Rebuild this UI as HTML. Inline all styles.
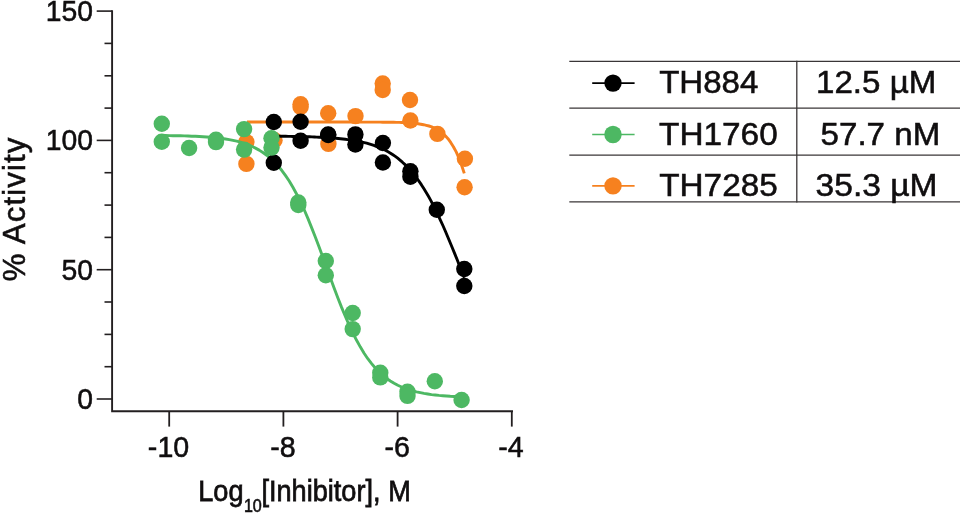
<!DOCTYPE html>
<html><head><meta charset="utf-8"><title>Dose response</title>
<style>
html,body{margin:0;padding:0;background:#fff;}
body{width:960px;height:513px;overflow:hidden;font-family:"Liberation Sans",sans-serif;}
svg{display:block;will-change:transform;}
</style></head><body>
<svg width="960" height="513" viewBox="0 0 960 513">
<rect width="960" height="513" fill="#ffffff"/>
<g stroke="#231f20" fill="none" stroke-linecap="butt">
<path d="M112.1 10.3 V411.2 H513" stroke-width="1.9"/>
<path d="M96.7 399.0 H112.1" stroke-width="1.6"/>
<path d="M96.7 269.7 H112.1" stroke-width="1.6"/>
<path d="M96.7 140.4 H112.1" stroke-width="1.6"/>
<path d="M96.7 11.1 H112.1" stroke-width="1.6"/>
<path d="M104.5 366.7 H112.1" stroke-width="1.6"/>
<path d="M104.5 334.4 H112.1" stroke-width="1.6"/>
<path d="M104.5 302.0 H112.1" stroke-width="1.6"/>
<path d="M104.5 237.4 H112.1" stroke-width="1.6"/>
<path d="M104.5 205.1 H112.1" stroke-width="1.6"/>
<path d="M104.5 172.7 H112.1" stroke-width="1.6"/>
<path d="M104.5 108.1 H112.1" stroke-width="1.6"/>
<path d="M104.5 75.8 H112.1" stroke-width="1.6"/>
<path d="M104.5 43.4 H112.1" stroke-width="1.6"/>
<path d="M169.2 411.2 V426.6" stroke-width="1.8"/>
<path d="M283.4 411.2 V426.6" stroke-width="1.8"/>
<path d="M397.6 411.2 V426.6" stroke-width="1.8"/>
<path d="M511.8 411.2 V426.6" stroke-width="1.8"/>
</g>
<g fill="none" stroke-width="2.9" stroke-linecap="butt" stroke-linejoin="round">
<path d="M247.0 122.0 L249.7 122.0 L252.4 122.0 L255.1 122.0 L257.9 122.0 L260.6 122.0 L263.3 122.0 L266.0 122.0 L268.7 122.0 L271.4 122.0 L274.2 122.0 L276.9 122.0 L279.6 122.0 L282.3 122.0 L285.0 122.0 L287.7 122.0 L290.5 122.0 L293.2 122.0 L295.9 122.0 L298.6 122.0 L301.3 122.0 L304.0 122.0 L306.8 122.0 L309.5 122.0 L312.2 122.0 L314.9 122.0 L317.6 122.0 L320.3 122.0 L323.1 122.0 L325.8 122.0 L328.5 122.0 L331.2 122.0 L333.9 122.0 L336.6 122.0 L339.4 122.0 L342.1 122.0 L344.8 122.0 L347.5 122.0 L350.2 122.0 L352.9 122.1 L355.6 122.1 L358.4 122.1 L361.1 122.1 L363.8 122.1 L366.5 122.1 L369.2 122.1 L371.9 122.1 L374.7 122.1 L377.4 122.1 L380.1 122.1 L382.8 122.2 L385.5 122.2 L388.2 122.2 L391.0 122.2 L393.7 122.3 L396.4 122.4 L399.1 122.4 L401.8 122.5 L404.5 122.6 L407.3 122.8 L410.0 123.0 L412.7 123.2 L415.4 123.4 L418.1 123.8 L420.8 124.2 L423.6 124.7 L426.3 125.3 L429.0 126.0 L431.7 126.9 L434.4 128.1 L437.1 129.5 L439.9 131.1 L442.6 133.2 L445.3 135.7 L448.0 138.7 L450.7 142.4 L453.4 146.7 L456.2 151.9 L458.9 158.0 L461.6 165.2 L464.3 173.4" stroke="#f6811f"/>
</g>
<circle cx="246.4" cy="142.1" r="8.2" fill="#f6811f"/>
<circle cx="246.4" cy="163.9" r="8.2" fill="#f6811f"/>
<circle cx="274.5" cy="140.3" r="8.2" fill="#f6811f"/>
<circle cx="300.6" cy="104.3" r="8.2" fill="#f6811f"/>
<circle cx="300.6" cy="107.0" r="8.2" fill="#f6811f"/>
<circle cx="328.2" cy="113.3" r="8.2" fill="#f6811f"/>
<circle cx="328.4" cy="143.9" r="8.2" fill="#f6811f"/>
<circle cx="355.5" cy="116.1" r="8.2" fill="#f6811f"/>
<circle cx="382.7" cy="83.5" r="8.2" fill="#f6811f"/>
<circle cx="382.7" cy="90.0" r="8.2" fill="#f6811f"/>
<circle cx="410.0" cy="100.0" r="8.2" fill="#f6811f"/>
<circle cx="410.4" cy="120.5" r="8.2" fill="#f6811f"/>
<circle cx="437.4" cy="133.9" r="8.2" fill="#f6811f"/>
<circle cx="464.9" cy="158.8" r="8.2" fill="#f6811f"/>
<circle cx="464.6" cy="187.2" r="8.2" fill="#f6811f"/>
<g fill="none" stroke-width="2.9" stroke-linecap="butt" stroke-linejoin="round">
<path d="M273.9 136.2 L276.3 136.2 L278.7 136.3 L281.0 136.3 L283.4 136.3 L285.8 136.3 L288.2 136.4 L290.6 136.4 L292.9 136.5 L295.3 136.5 L297.7 136.5 L300.1 136.6 L302.5 136.6 L304.8 136.7 L307.2 136.8 L309.6 136.8 L312.0 136.9 L314.4 137.0 L316.7 137.1 L319.1 137.2 L321.5 137.3 L323.9 137.5 L326.3 137.6 L328.6 137.7 L331.0 137.9 L333.4 138.1 L335.8 138.3 L338.2 138.5 L340.5 138.7 L342.9 139.0 L345.3 139.3 L347.7 139.6 L350.1 139.9 L352.4 140.3 L354.8 140.7 L357.2 141.1 L359.6 141.6 L362.0 142.1 L364.3 142.6 L366.7 143.2 L369.1 143.9 L371.5 144.6 L373.9 145.4 L376.2 146.3 L378.6 147.2 L381.0 148.2 L383.4 149.3 L385.8 150.5 L388.1 151.8 L390.5 153.2 L392.9 154.8 L395.3 156.4 L397.7 158.2 L400.0 160.1 L402.4 162.2 L404.8 164.4 L407.2 166.8 L409.6 169.3 L411.9 172.0 L414.3 174.9 L416.7 178.1 L419.1 181.4 L421.5 184.9 L423.8 188.6 L426.2 192.5 L428.6 196.6 L431.0 200.9 L433.4 205.5 L435.7 210.2 L438.1 215.1 L440.5 220.3 L442.9 225.5 L445.3 231.0 L447.6 236.5 L450.0 242.2 L452.4 248.0 L454.8 253.9 L457.2 259.8 L459.5 265.8 L461.9 271.7 L464.3 277.7" stroke="#000000"/>
<path d="M161.8 135.5 L165.5 135.5 L169.3 135.6 L173.0 135.7 L176.8 135.7 L180.5 135.8 L184.3 135.9 L188.0 136.0 L191.8 136.2 L195.5 136.3 L199.3 136.5 L203.0 136.7 L206.8 137.0 L210.5 137.3 L214.2 137.6 L218.0 138.0 L221.7 138.5 L225.5 139.0 L229.2 139.6 L233.0 140.4 L236.7 141.2 L240.5 142.2 L244.2 143.4 L248.0 144.7 L251.7 146.3 L255.5 148.1 L259.2 150.1 L262.9 152.5 L266.7 155.2 L270.4 158.3 L274.2 161.8 L277.9 165.8 L281.7 170.3 L285.4 175.4 L289.2 181.0 L292.9 187.3 L296.7 194.2 L300.4 201.6 L304.2 209.7 L307.9 218.4 L311.6 227.6 L315.4 237.2 L319.1 247.1 L322.9 257.3 L326.6 267.6 L330.4 277.9 L334.1 288.0 L337.9 297.9 L341.6 307.4 L345.4 316.5 L349.1 325.0 L352.9 333.0 L356.6 340.3 L360.4 347.1 L364.1 353.2 L367.8 358.7 L371.6 363.6 L375.3 368.0 L379.1 371.9 L382.8 375.3 L386.6 378.4 L390.3 381.0 L394.1 383.3 L397.8 385.3 L401.6 387.0 L405.3 388.5 L409.1 389.8 L412.8 390.9 L416.5 391.9 L420.3 392.7 L424.0 393.4 L427.8 394.0 L431.5 394.6 L435.3 395.0 L439.0 395.4 L442.8 395.7 L446.5 396.0 L450.3 396.3 L454.0 396.5 L457.8 396.7 L461.5 396.8" stroke="#4db863"/>
</g>
<circle cx="273.8" cy="122.0" r="8.2" fill="#000000"/>
<circle cx="273.8" cy="162.8" r="8.2" fill="#000000"/>
<circle cx="300.6" cy="121.7" r="8.2" fill="#000000"/>
<circle cx="300.6" cy="140.7" r="8.2" fill="#000000"/>
<circle cx="328.2" cy="134.5" r="8.2" fill="#000000"/>
<circle cx="328.2" cy="135.0" r="8.2" fill="#000000"/>
<circle cx="355.4" cy="134.4" r="8.2" fill="#000000"/>
<circle cx="355.4" cy="144.5" r="8.2" fill="#000000"/>
<circle cx="382.9" cy="143.0" r="8.2" fill="#000000"/>
<circle cx="382.9" cy="162.5" r="8.2" fill="#000000"/>
<circle cx="410.4" cy="171.2" r="8.2" fill="#000000"/>
<circle cx="410.4" cy="176.7" r="8.2" fill="#000000"/>
<circle cx="436.8" cy="209.8" r="8.2" fill="#000000"/>
<circle cx="464.3" cy="269.0" r="8.2" fill="#000000"/>
<circle cx="464.3" cy="286.0" r="8.2" fill="#000000"/>
<circle cx="161.8" cy="123.7" r="8.2" fill="#4db863"/>
<circle cx="161.8" cy="141.8" r="8.2" fill="#4db863"/>
<circle cx="189.1" cy="148.0" r="8.2" fill="#4db863"/>
<circle cx="216.0" cy="139.7" r="8.2" fill="#4db863"/>
<circle cx="216.0" cy="142.1" r="8.2" fill="#4db863"/>
<circle cx="244.1" cy="129.1" r="8.2" fill="#4db863"/>
<circle cx="244.1" cy="149.6" r="8.2" fill="#4db863"/>
<circle cx="271.5" cy="138.2" r="8.2" fill="#4db863"/>
<circle cx="271.5" cy="147.6" r="8.2" fill="#4db863"/>
<circle cx="298.3" cy="202.5" r="8.2" fill="#4db863"/>
<circle cx="298.3" cy="205.0" r="8.2" fill="#4db863"/>
<circle cx="325.8" cy="261.0" r="8.2" fill="#4db863"/>
<circle cx="325.8" cy="275.2" r="8.2" fill="#4db863"/>
<circle cx="352.7" cy="313.0" r="8.2" fill="#4db863"/>
<circle cx="352.7" cy="329.1" r="8.2" fill="#4db863"/>
<circle cx="380.3" cy="372.8" r="8.2" fill="#4db863"/>
<circle cx="380.3" cy="377.4" r="8.2" fill="#4db863"/>
<circle cx="407.5" cy="391.8" r="8.2" fill="#4db863"/>
<circle cx="407.5" cy="395.9" r="8.2" fill="#4db863"/>
<circle cx="434.8" cy="381.3" r="8.2" fill="#4db863"/>
<circle cx="461.6" cy="400.0" r="8.2" fill="#4db863"/>
<g font-family="'Liberation Sans', sans-serif" fill="#100e0f" stroke="#100e0f" stroke-width="0.55">
<text transform="translate(77.18 409.00) scale(0.9500 1)" font-size="29.80">0</text>
<text transform="translate(61.61 279.70) scale(0.9500 1)" font-size="29.80">50</text>
<text transform="translate(45.75 150.40) scale(0.9500 1)" font-size="29.80">100</text>
<text transform="translate(45.75 21.10) scale(0.9500 1)" font-size="29.80">150</text>
<text transform="translate(147.86 457.40) scale(0.9600 1)" font-size="29.80">-10</text>
<text transform="translate(270.21 457.40) scale(0.9600 1)" font-size="29.80">-8</text>
<text transform="translate(384.41 457.40) scale(0.9600 1)" font-size="29.80">-6</text>
<text transform="translate(498.33 457.40) scale(0.9600 1)" font-size="29.80">-4</text>
<text transform="translate(198.23 501.20) scale(0.9110 1)" font-size="29.80" stroke-width="0.75">Log</text>
<text transform="translate(243.91 512.10) scale(0.8700 1)" font-size="18.50" stroke-width="0.6">10</text>
<text transform="translate(261.40 501.20) scale(0.9110 1)" font-size="29.80" stroke-width="0.75">[Inhibitor], M</text>
<text transform="translate(24.6 281.15) rotate(-90)" font-size="31.20" letter-spacing="1.12">% Activity</text>
</g>
<g stroke="#3a3637" stroke-width="1.3" fill="none">
<path d="M569.3 61.3 H960"/>
<path d="M569.3 108.1 H960"/>
<path d="M569.3 155.2 H960"/>
<path d="M569.3 201.9 H960"/>
<path d="M796.8 60.7 V202.5"/>
</g>
<path d="M592.2 83.1 H634.6" stroke="#000000" stroke-width="1.7"/>
<circle cx="613" cy="83.1" r="8.7" fill="#000000"/>
<path d="M592.2 134.5 H634.6" stroke="#4db863" stroke-width="1.7"/>
<circle cx="613" cy="134.5" r="8.7" fill="#4db863"/>
<path d="M592.2 185.9 H634.6" stroke="#f6811f" stroke-width="1.7"/>
<circle cx="613" cy="185.9" r="8.7" fill="#f6811f"/>
<g font-family="'Liberation Sans', sans-serif" fill="#100e0f" stroke="#100e0f" stroke-width="0.55">
<text transform="translate(659.14 93.30) scale(1.0264 1)" font-size="32.20">TH884</text>
<text transform="translate(816.05 93.30) scale(1.0283 1)" font-size="32.20">12.5 µM</text>
<text transform="translate(659.03 144.60) scale(1.0364 1)" font-size="32.20">TH1760</text>
<text transform="translate(820.58 144.60) scale(1.0287 1)" font-size="32.20">57.7 nM</text>
<text transform="translate(659.23 195.80) scale(1.0346 1)" font-size="32.20">TH7285</text>
<text transform="translate(815.56 195.80) scale(1.0432 1)" font-size="32.20">35.3 µM</text>
</g>
</svg>
</body></html>
